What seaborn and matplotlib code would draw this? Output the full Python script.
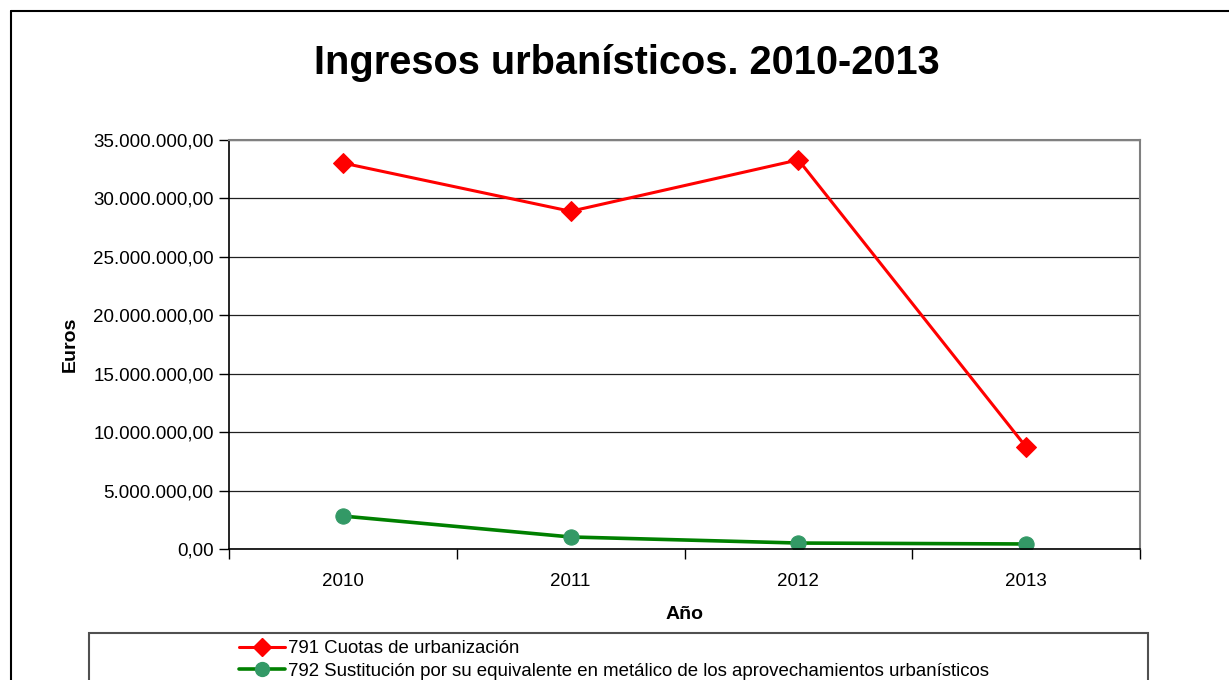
import numpy as np
import pandas as pd
import matplotlib
matplotlib.use('agg')
import matplotlib.pyplot as plt
from matplotlib.lines import Line2D
from matplotlib.patches import Rectangle
from matplotlib.ticker import FuncFormatter, FixedLocator
import seaborn as sns

years = ["2010", "2011", "2012", "2013"]
cuotas = [33030000, 28900000, 33300000, 8730000]
sustitucion = [2820000, 1030000, 510000, 430000]
label_cuotas = "791 Cuotas de urbanización"
label_sust = "792 Sustitución por su equivalente en metálico de los aprovechamientos urbanísticos"
y_ticks = [0, 5e6, 10e6, 15e6, 20e6, 25e6, 30e6, 35e6]

sns.set_style("white")
plt.rcParams['font.family'] = ['Liberation Sans', 'DejaVu Sans']
plt.rcParams['text.color'] = 'black'
plt.rcParams['axes.labelcolor'] = 'black'
plt.rcParams['xtick.color'] = 'black'
plt.rcParams['ytick.color'] = 'black'

W, H = 1229, 680
fig = plt.figure(figsize=(W / 100, H / 100), dpi=100, facecolor='w')
ax = fig.add_axes([229 / W, 1 - 549 / H, (1140 - 229) / W, (549 - 140) / H])

df = pd.DataFrame({"pos": np.arange(len(years)), "cuotas": cuotas, "sust": sustitucion})

sns.lineplot(x="pos", y="cuotas", data=df, ax=ax, color="#FF0000", lw=2.2,
             marker="D", markersize=10, markeredgecolor="#FF0000", markerfacecolor="#FF0000")
sns.lineplot(x="pos", y="sust", data=df, ax=ax, color="#008000", lw=2.6,
             marker="o", markersize=11, markeredgecolor="#339966", markerfacecolor="#339966")

ax.set_xlim(-0.5, len(years) - 0.5)
ax.set_ylim(0, 35e6)


def euro_fmt(v, pos):
    s = f"{v:,.2f}"
    return s.replace(",", "X").replace(".", ",").replace("X", ".")


ax.yaxis.set_major_locator(FixedLocator(y_ticks))
ax.yaxis.set_major_formatter(FuncFormatter(euro_fmt))
ax.set_xticks(np.arange(-0.5, len(years)))
ax.set_xticklabels([])
ax.set_xticks(np.arange(len(years)), minor=True)
ax.set_xticklabels(years, minor=True)
ax.tick_params(axis='x', which='major', direction='out', length=7, width=1, color='black', bottom=True)
ax.tick_params(axis='x', which='minor', length=0, labelsize=13.5, pad=17)
ax.tick_params(axis='y', direction='out', length=7, width=1, color='black', left=True, labelsize=13.5, pad=4)

ax.grid(axis='y', color='#202020', lw=0.9)
ax.set_axisbelow(True)
for side in ["left", "bottom"]:
    ax.spines[side].set_color("black")
    ax.spines[side].set_linewidth(1.2)
for side in ["top", "right"]:
    ax.spines[side].set_color("#808080")
    ax.spines[side].set_linewidth(1.5)

ax.set_xlabel("Año", fontsize=14, fontweight='bold', labelpad=12)
ax.set_ylabel("Euros", fontsize=14, fontweight='bold', labelpad=10)

fig.text(627 / W, 1 - 63 / H, "Ingresos urbanísticos. 2010-2013", ha='center', va='center',
         fontsize=28.6, fontweight='bold')

# outer chart border (top and left visible)
fig.add_artist(Line2D([11 / W, 1.01], [1 - 11 / H, 1 - 11 / H], transform=fig.transFigure, color='black', lw=1.5))
fig.add_artist(Line2D([11 / W, 11 / W], [1 - 11 / H, -0.01], transform=fig.transFigure, color='black', lw=1.5))

# legend box
fig.add_artist(Rectangle((89 / W, -0.02), (1148 - 89) / W, (680 - 633) / H + 0.02,
                         transform=fig.transFigure, facecolor='white', edgecolor='#505050', lw=1.5))
handles = [
    Line2D([], [], color="#FF0000", lw=2.2, marker="D", markersize=9, markerfacecolor="#FF0000"),
    Line2D([], [], color="#008000", lw=2.6, marker="o", markersize=10,
           markerfacecolor="#339966", markeredgecolor="#339966"),
]
fig.legend(handles, [label_cuotas, label_sust], loc='upper left',
           bbox_to_anchor=(227 / W, 1 - 628 / H), frameon=False, fontsize=13.4,
           handlelength=2.45, handletextpad=0.2, labelspacing=0.3, borderpad=0.15)

plt.savefig("out.png", dpi=100)
plt.close()
